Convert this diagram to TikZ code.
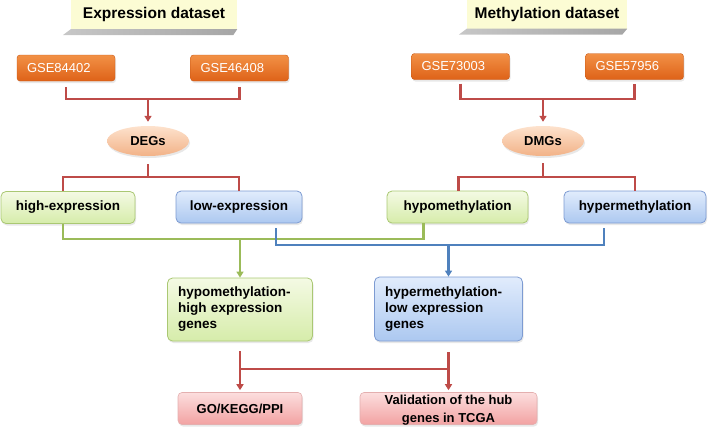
\documentclass[tikz,border=0pt]{standalone}
\usepackage{fontspec}
\setmainfont{Liberation Sans}
\usetikzlibrary{arrows.meta,shapes.geometric,shadows}
\definecolor{redl}{RGB}{190,75,72}
\definecolor{greenl}{RGB}{155,187,89}
\definecolor{bluel}{RGB}{79,129,189}
\definecolor{oratop}{RGB}{242,145,70}
\definecolor{orabot}{RGB}{222,98,24}
\definecolor{grtop}{RGB}{244,250,228}
\definecolor{grbot}{RGB}{214,236,170}
\definecolor{grbd}{RGB}{170,200,115}
\definecolor{bltop}{RGB}{225,236,252}
\definecolor{blbot}{RGB}{172,200,240}
\definecolor{blbd}{RGB}{125,155,210}
\definecolor{pktop}{RGB}{252,222,222}
\definecolor{pkbot}{RGB}{242,162,162}
\definecolor{pkbd}{RGB}{228,175,175}
\definecolor{eltop}{RGB}{253,226,205}
\definecolor{elbot}{RGB}{242,178,135}
\definecolor{ttl}{RGB}{252,252,212}
\tikzset{
  shd/.style={drop shadow={opacity=0.18,shadow xshift=1pt,shadow yshift=-2pt}},
  titlebox/.style={fill=ttl,minimum height=29pt,inner sep=0pt,font=\fontsize{15.5}{18}\selectfont\bfseries},
  gsebox/.style={shd,rounded corners=3pt,top color=oratop,bottom color=orabot,draw=orabot!90!black,line width=0.4pt,
     minimum width=98pt,minimum height=26pt,inner sep=0pt,text width=78pt,align=left,text=white,
     font=\fontsize{13}{15}\selectfont},
  ell/.style={shd,ellipse,top color=eltop,bottom color=elbot,minimum width=82pt,minimum height=30pt,inner sep=0pt,
     font=\fontsize{13}{15}\selectfont\bfseries},
  gbox/.style={shd,rounded corners=5pt,top color=grtop,bottom color=grbot,draw=grbd,line width=0.8pt,
     minimum height=32pt,inner sep=0pt,font=\fontsize{13.5}{16}\selectfont\bfseries},
  bbox/.style={shd,rounded corners=5pt,top color=bltop,bottom color=blbot,draw=blbd,line width=0.8pt,
     minimum height=32pt,inner sep=0pt,font=\fontsize{13.5}{16}\selectfont\bfseries},
  pbox/.style={shd,rounded corners=4pt,top color=pktop,bottom color=pkbot,draw=pkbd,line width=0.6pt,
     inner sep=0pt,font=\fontsize{13}{17.5}\selectfont\bfseries},
  rline/.style={draw=redl,line width=2.8pt},
  gline/.style={draw=greenl,line width=2.8pt},
  bline/.style={draw=bluel,line width=2.8pt},
  arr/.style={-{Triangle[width=7pt,length=6pt]}},
}
\begin{document}
\begin{tikzpicture}[x=1pt,y=-1pt]
\useasboundingbox (0,0) rectangle (708,426);
% titles
\node[titlebox,minimum width=166pt] (t1) at (154,14.5) {Expression dataset};
\node[titlebox,minimum width=160pt] (t2) at (547,14) {Methylation dataset};
\shade[left color=black!22,right color=black!35] (t1.south west) -- (t1.south east) -- ([xshift=-4pt,yshift=-6pt]t1.south east) -- ([xshift=-8pt,yshift=-6pt]t1.south west) -- cycle;
\shade[left color=black!22,right color=black!35] (t2.south west) -- (t2.south east) -- ([xshift=-5pt,yshift=-6pt]t2.south east) -- ([xshift=-8pt,yshift=-6pt]t2.south west) -- cycle;
% GSE boxes
\node[gsebox] (g1) at (66,68) {GSE84402};
\node[gsebox] (g2) at (239.5,68) {GSE46408};
\node[gsebox] (g3) at (460.5,66.5) {GSE73003};
\node[gsebox] (g4) at (634.5,66.5) {GSE57956};
% ellipses
\node[ell] (deg) at (148,141) {DEGs};
\node[ell] (dmg) at (543,141) {DMGs};
% middle boxes
\node[gbox,minimum width=134pt] (hi) at (68,207.5) {high-expression};
\node[bbox,minimum width=126pt] (low) at (239,207) {low-expression};
\node[gbox,minimum width=141pt] (hypo) at (457.5,207) {hypomethylation};
\node[bbox,minimum width=142pt] (hyper) at (635,207) {hypermethylation};
% result boxes
\node[gbox,minimum width=145pt,minimum height=63pt,text width=124pt,align=left] (hme) at (240,309.5)
  {hypomethylation-\\high expression\\genes};
\node[bbox,minimum width=148pt,minimum height=64pt,text width=127pt,align=left] (hle) at (448.5,309)
  {hypermethylation-\\low expression\\genes};
\node[pbox,minimum width=124pt,minimum height=32pt] (go) at (240,408.5) {GO/KEGG/PPI};
\node[pbox,minimum width=177pt,minimum height=32pt] (val) at (448.5,408.5) {};
\node[font=\fontsize{13}{17.5}\selectfont\bfseries,align=center,inner sep=0pt] (valt) at ([yshift=-1.5pt]val.center)
  {Validation of the hub\\genes in TCGA};
% top brackets
\draw[rline] ([yshift=-6pt]g1.south) -- (g1.south |- 0,99) -- (g2.south |- 0,99) -- ([yshift=-6pt]g2.south);
\draw[rline,arr] (deg.north |- 0,99) -- ([yshift=4pt]deg.north);
\draw[rline] ([yshift=-4pt]g3.south) -- (g3.south |- 0,99) -- (g4.south |- 0,99) -- ([yshift=-4pt]g4.south);
\draw[rline,arr] (dmg.north |- 0,99) -- ([yshift=4pt]dmg.north);
% split brackets
\coordinate (hiN) at ([xshift=-5pt]hi.north);
\coordinate (hypoN) at ([xshift=1pt]hypo.north);
\draw[rline] ([yshift=-8pt]deg.south) -- (deg.south |- 0,177);
\draw[rline] (hiN) -- (hiN |- 0,177) -- (low.north |- 0,177) -- (low.north);
\draw[rline] ([yshift=-7pt]dmg.south) -- (dmg.south |- 0,177);
\draw[rline] (hypoN) -- (hypoN |- 0,177) -- (hyper.north |- 0,177) -- (hyper.north);
% green merge
\coordinate (hiS) at ([xshift=-5pt]hi.south);
\coordinate (hypoS) at ([xshift=-34pt]hypo.south);
\draw[gline] (hiS) -- (hiS |- 0,239) -- (hypoS |- 0,239) -- (hypoS);
\draw[gline,arr] (hme.north |- 0,239) -- (hme.north);
% blue merge
\coordinate (lowS) at ([xshift=37pt]low.south);
\coordinate (hyperS) at ([xshift=-31pt]hyper.south);
\draw[bline] ([yshift=-5pt]lowS) -- (lowS |- 0,245) -- (hyperS |- 0,245) -- ([yshift=-5pt]hyperS);
\draw[bline,arr] (hle.north |- 0,245) -- (hle.north);
% bottom bracket
\draw[rline,arr] ([yshift=-10pt]hme.south) -- ([yshift=2pt]go.north);
\draw[rline,arr] ([yshift=-11pt]hle.south) -- ([yshift=2pt]val.north);
\draw[rline] (go.north |- 0,369) -- (val.north |- 0,369);
\end{tikzpicture}
\end{document}
